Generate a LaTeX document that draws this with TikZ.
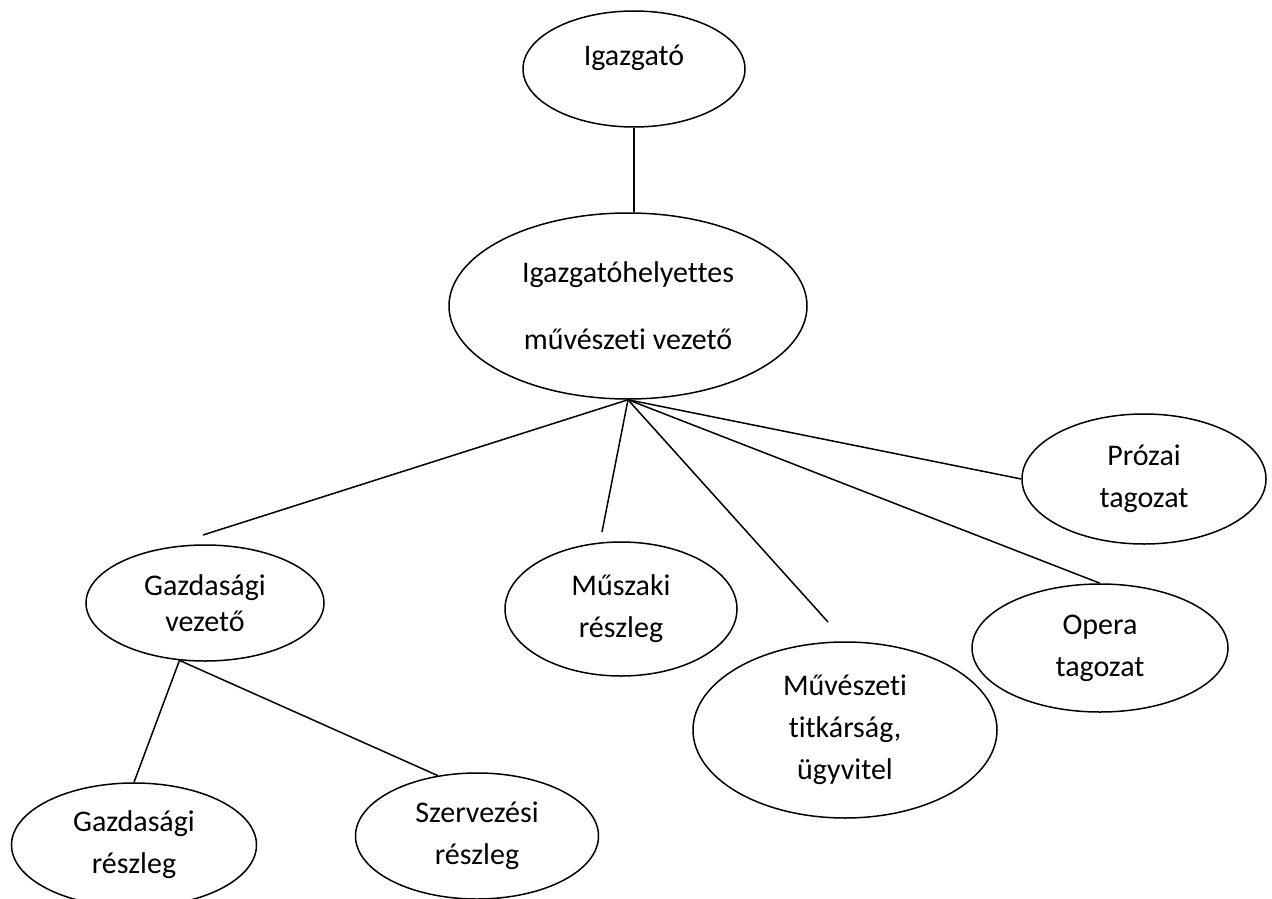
\documentclass[tikz,border=0pt]{standalone}
\usepackage{fontspec}
\setmainfont{Carlito}[Ligatures=NoCommon]
\usetikzlibrary{shapes.geometric}

\begin{document}
\begin{tikzpicture}[
			x=1pt, y=-1pt,
			unit/.style={draw, ellipse, line width=1.5pt, inner sep=0pt, align=center, font=\fontsize{30}{42}\selectfont},
			link/.style={line width=1.5pt},
		]
			\useasboundingbox (0,0) rectangle (1272,899);

			\node[unit, minimum width=222pt, minimum height=116pt] (director) at (634,69) {\raisebox{3pt}[0pt][0pt]{Igazgató}};
			\node[unit, minimum width=358pt, minimum height=186pt] (deputy) at (628,306) {Igazgatóhelyettes\\[25pt]művészeti vezető};
			\node[unit, minimum width=244pt, minimum height=130pt] (prose) at (1144,479) {Prózai\\tagozat};
			\node[unit, minimum width=256pt, minimum height=128pt] (opera) at (1100,648) {Opera\\tagozat};
			\node[unit, minimum width=304pt, minimum height=176pt] (secretariat) at (845,730) {Művészeti\\titkárság,\\ügyvitel};
			\node[unit, minimum width=232pt, minimum height=134pt] (technical) at (621,609) {Műszaki\\részleg};
			\node[unit, minimum width=238pt, minimum height=116pt] (economic) at (205,603) {\raisebox{-6pt}{Gazdasági}\\vezető};
			\node[unit, minimum width=245pt, minimum height=124pt] (finance) at (134,845) {Gazdasági\\részleg};
			\node[unit, minimum width=243pt, minimum height=126pt] (organising) at (477,836) {Szervezési\\részleg};

			% loose line ends above the boxes
			\coordinate (economic top) at (203,535);
			\coordinate (technical top) at (602,532);
			\coordinate (secretariat top) at (828,622);

			\draw[link] (director.south) -- (director.south |- deputy.north);

			\draw[link] (deputy.south) -- (economic top);
			\draw[link] (deputy.south) -- (technical top);
			\draw[link] (deputy.south) -- (secretariat top);
			\draw[link] (deputy.south) -- (opera.north);
			\draw[link] (deputy.south) -- (prose.west);

			\draw[link] (economic.246) -- (finance.north);
			\draw[link] (economic.246) -- (organising.123);
		\end{tikzpicture}
\end{document}
